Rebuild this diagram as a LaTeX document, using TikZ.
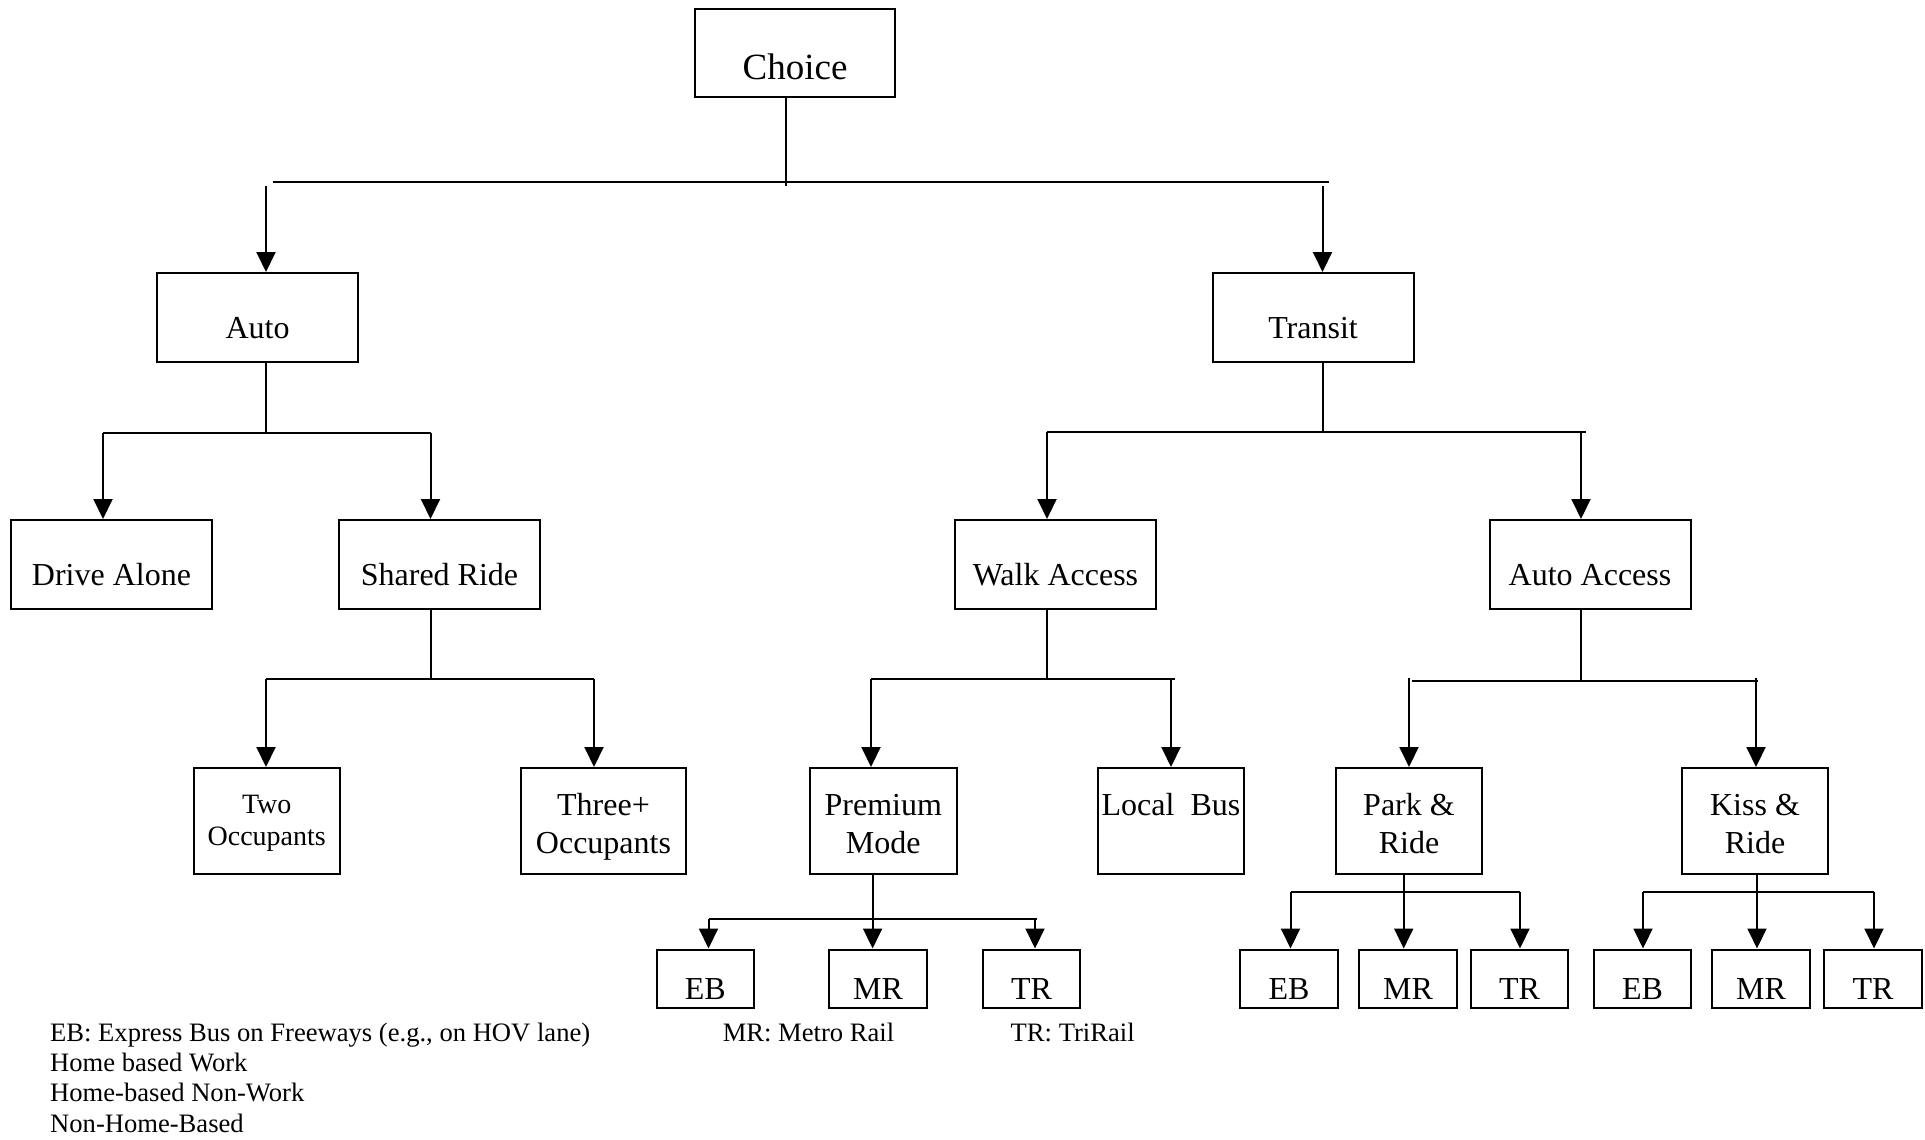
\documentclass[tikz,border=0pt]{standalone}
\usepackage{fontspec}
\setmainfont{Liberation Serif}
\usetikzlibrary{arrows.meta}
\begin{document}
\begin{tikzpicture}[x=1pt,y=-1pt,
  box/.style={draw,line width=2pt,inner sep=0pt},
  lvA/.style={box,minimum width=201pt,minimum height=89pt},
  lvB/.style={box,minimum width=146.5pt,minimum height=106pt},
  lvC/.style={box,minimum width=97.5pt,minimum height=58.5pt},
  txt/.style={anchor=base,inner sep=0pt,font=\fontsize{32pt}{38pt}\selectfont},
  leg/.style={anchor=base west,inner sep=0pt,font=\fontsize{26.6pt}{30pt}\selectfont},
  ln/.style={line width=2pt},
  arr/.style={line width=2pt,-{Triangle[length=20pt,width=19pt]}}]
\useasboundingbox[fill=white] (0,0) rectangle (1925,1140);

% ---------- boxes ----------
\node[box,minimum width=200pt,minimum height=88pt] (choice) at (795,53) {};
\node[lvA] (auto) at (257.5,317.5) {};
\node[lvA] (transit) at (1313,317.5) {};
\node[lvA] (drive) at (111.5,564.5) {};
\node[lvA] (shared) at (439.5,564.5) {};
\node[lvA] (walk) at (1055.5,564.5) {};
\node[lvA] (autoacc) at (1590,564.5) {};
\node[lvB] (two) at (266.75,821) {};
\node[lvB,minimum width=165pt] (three) at (603.5,821) {};
\node[lvB] (premium) at (883.25,821) {};
\node[lvB] (local) at (1171,821) {};
\node[lvB] (park) at (1409,821) {};
\node[lvB] (kiss) at (1755,821) {};
\node[lvC] (eba) at (705.25,978.75) {};
\node[lvC] (mra) at (878,978.75) {};
\node[lvC] (tra) at (1031.5,978.75) {};
\node[lvC] (ebb) at (1289,978.75) {};
\node[lvC] (mrb) at (1408,978.75) {};
\node[lvC] (trb) at (1519.5,978.75) {};
\node[lvC] (ebc) at (1642.5,978.75) {};
\node[lvC] (mrc) at (1761,978.75) {};
\node[lvC] (trc) at (1873,978.75) {};

% ---------- texts ----------
\node[txt,font=\fontsize{37pt}{44pt}\selectfont] (t-choice) at (795,79) {Choice};
\node[txt] (t-auto) at (257.5,338) {Auto};
\node[txt] (t-transit) at (1313,338) {Transit};
\node[txt] (t-drive) at (111.5,585) {Drive Alone};
\node[txt] (t-shared) at (439.5,585) {Shared Ride};
\node[txt] (t-walk) at (1055.5,585) {Walk Access};
\node[txt] (t-autoacc) at (1590,585) {Auto Access};
\node[txt,font=\fontsize{28pt}{32pt}\selectfont] (t-two1) at (266.75,813.5) {Two};
\node[txt,font=\fontsize{28pt}{32pt}\selectfont] (t-two2) at (266.75,845.5) {Occupants};
\node[txt] (t-three1) at (603.5,815) {Three+};
\node[txt] (t-three2) at (603.5,853) {Occupants};
\node[txt] (t-prem1) at (883.25,815) {Premium};
\node[txt] (t-prem2) at (883.25,853) {Mode};
\node[txt] (t-local) at (1171,815) {Local\ \ Bus};
\node[txt] (t-park1) at (1409,815) {Park \&};
\node[txt] (t-park2) at (1409,853) {Ride};
\node[txt] (t-kiss1) at (1755,815) {Kiss \&};
\node[txt] (t-kiss2) at (1755,853) {Ride};
\node[txt] (t-eba) at (705.25,999) {EB};
\node[txt] (t-mra) at (878,999) {MR};
\node[txt] (t-tra) at (1031.5,999) {TR};
\node[txt] (t-ebb) at (1289,999) {EB};
\node[txt] (t-mrb) at (1408,999) {MR};
\node[txt] (t-trb) at (1519.5,999) {TR};
\node[txt] (t-ebc) at (1642.5,999) {EB};
\node[txt] (t-mrc) at (1761,999) {MR};
\node[txt] (t-trc) at (1873,999) {TR};

% legend
\node[leg] (l1) at (50,1041.5) {EB: Express Bus on Freeways (e.g., on HOV lane)};
\node[leg] (l2) at (50,1071.7) {Home based Work};
\node[leg] (l3) at (50,1101.9) {Home-based Non-Work};
\node[leg] (l4) at (50,1132.1) {Non-Home-Based};
\node[leg] (l5) at (722.6,1041.5) {MR: Metro Rail};
\node[leg] (l6) at (1010.5,1041.5) {TR: TriRail};

% ---------- connectors ----------
% Choice
\coordinate (c0) at (785.7,186);
\coordinate (c1) at (272.5,182);
\coordinate (c2) at (1329,182);
\coordinate (c3) at (266,186);
\coordinate (c4) at (1322.5,186);
\draw[ln] (choice.south -| c0) -- (c0);
\draw[ln] (c1) -- (c2);
\draw[arr] (c3) -- (c3 |- auto.north);
\draw[arr] (c4) -- (c4 |- transit.north);

% Auto
\coordinate (a0) at (266,433);
\coordinate (a1) at (103,433);
\coordinate (a2) at (430.5,433);
\draw[ln] (auto.south -| a0) -- (a0);
\draw[ln] (a1) -- (a2);
\draw[arr] (a1) -- (a1 |- drive.north);
\draw[arr] (a2) -- (a2 |- shared.north);

% Transit
\coordinate (b0) at (1322.5,432);
\coordinate (b1) at (1047,432);
\coordinate (b2) at (1586,432);
\coordinate (b3) at (1581,432);
\draw[ln] (transit.south -| b0) -- (b0);
\draw[ln] (b1) -- (b2);
\draw[arr] (b1) -- (b1 |- walk.north);
\draw[arr] (b3) -- (b3 |- autoacc.north);

% Shared ride
\coordinate (s0) at (430.5,678.5);
\coordinate (s1) at (266,678.5);
\coordinate (s2) at (594,678.5);
\draw[ln] (shared.south -| s0) -- (s0);
\draw[ln] (s1) -- (s2);
\draw[arr] (s1) -- (s1 |- two.north);
\draw[arr] (s2) -- (s2 |- three.north);

% Walk access
\coordinate (w0) at (1047.4,678.5);
\coordinate (w1) at (871,678.5);
\coordinate (w2) at (1175,678.5);
\coordinate (w3) at (1171,678.5);
\draw[ln] (walk.south -| w0) -- (w0);
\draw[ln] (w1) -- (w2);
\draw[arr] (w1) -- (w1 |- premium.north);
\draw[arr] (w3) -- (w3 |- local.north);

% Auto access
\coordinate (k0) at (1581,681);
\coordinate (k1) at (1412,681);
\coordinate (k2) at (1758,681);
\coordinate (k3) at (1409,678);
\coordinate (k4) at (1756,678);
\draw[ln] (autoacc.south -| k0) -- (k0);
\draw[ln] (k1) -- (k2);
\draw[arr] (k3) -- (k3 |- park.north);
\draw[arr] (k4) -- (k4 |- kiss.north);

% Premium mode
\coordinate (p0) at (872.6,919);
\coordinate (p1) at (708.5,919);
\coordinate (p2) at (1037,919);
\coordinate (p3) at (1035,919);
\draw[arr] (premium.south -| p0) -- (p0 |- mra.north);
\draw[ln] (p1) -- (p2);
\draw[arr] (p1) -- (p1 |- eba.north);
\draw[arr] (p3) -- (p3 |- tra.north);

% Park & Ride
\coordinate (r0) at (1403.7,892);
\coordinate (r1) at (1290.5,892);
\coordinate (r2) at (1520,892);
\draw[arr] (park.south -| r0) -- (r0 |- mrb.north);
\draw[ln] (r1) -- (r2);
\draw[arr] (r1) -- (r1 |- ebb.north);
\draw[arr] (r2) -- (r2 |- trb.north);

% Kiss & Ride
\coordinate (q0) at (1757,892);
\coordinate (q1) at (1643,892);
\coordinate (q2) at (1874,892);
\draw[arr] (kiss.south -| q0) -- (q0 |- mrc.north);
\draw[ln] (q1) -- (q2);
\draw[arr] (q1) -- (q1 |- ebc.north);
\draw[arr] (q2) -- (q2 |- trc.north);
\end{tikzpicture}
\end{document}
